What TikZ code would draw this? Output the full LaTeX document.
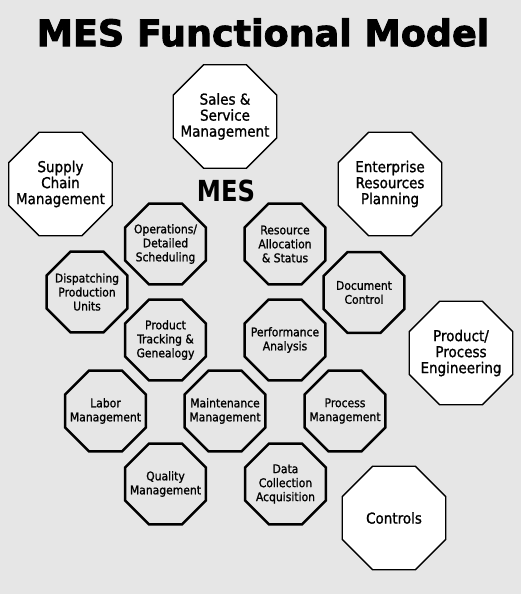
\documentclass[tikz,border=0pt]{standalone}
\usepackage{fontspec}
\setmainfont{DejaVu Sans Condensed}[FakeBold=1.2]
\newfontfamily\titlefont{DejaVu Sans}[BoldFeatures={FakeBold=2.5}]
\newfontfamily\mesfont{DejaVu Sans Condensed}[BoldFeatures={FakeStretch=0.93}]
\usetikzlibrary{shapes.geometric}

\definecolor{bggray}{HTML}{E6E6E6}

\tikzset{
  oct/.style={regular polygon, regular polygon sides=8, draw=black,
    inner sep=0pt},
  bigoct/.style={oct, line width=1.4pt, fill=white, minimum size=112pt},
  smalloct/.style={oct, line width=2.5pt, fill=bggray, minimum size=87.2pt},
  bigtxt/.style={align=center, inner sep=0pt, font=\fontsize{15}{16}\selectfont},
  smalltxt/.style={align=center, inner sep=0pt, font=\fontsize{12}{14}\selectfont}
}

\begin{document}
\begin{tikzpicture}[x=1pt,y=-1pt]
\fill[bggray] (0,0) rectangle (521,594);
\useasboundingbox (0,0) rectangle (521,594);

\node (title) at (263,32.5) {\titlefont\bfseries\fontsize{36.5}{40}\selectfont MES Functional Model};

% outer functions
\node[bigoct] (sales) at (225,116.5) {};
\node[bigtxt] at (sales) {Sales \&\\Service\\Management};
\node[bigoct] (supply) at (60.5,184) {};
\node[bigtxt] at (supply) {Supply\\Chain\\Management};
\node[bigoct] (erp) at (390,184) {};
\node[bigtxt] at (erp) {Enterprise\\Resources\\Planning};
\node[bigoct] (ppe) at (461,353) {};
\node[bigtxt] at (ppe) {Product/\\Process\\Engineering};
\node[bigoct] (controls) at (394,518) {};
\node[bigtxt] at (controls) {Controls};

\node (mes) at (226,191) {\mesfont\bfseries\fontsize{29}{32}\selectfont MES};

% MES functions
\node[smalloct] (ops) at (165.5,244) {};
\node[smalltxt] at (ops) {Operations/\\Detailed\\Scheduling};
\node[smalloct] (resalloc) at (285,244) {};
\node[smalltxt] at (resalloc) {Resource\\Allocation\\\& Status};
\node[smalloct] (doc) at (364,292.5) {};
\node[smalltxt] at (doc) {Document\\Control};
\node[smalloct] (dispatch) at (87,292) {};
\node[smalltxt] at (dispatch) {Dispatching\\Production\\Units};
\node[smalloct] (tracking) at (165.5,340) {};
\node[smalltxt] at (tracking) {Product\\Tracking \&\\Genealogy};
\node[smalloct] (perf) at (285,340) {};
\node[smalltxt] at (perf) {Performance\\Analysis};
\node[smalloct] (labor) at (105.5,411) {};
\node[smalltxt] at (labor) {Labor\\Management};
\node[smalloct] (maint) at (225,411) {};
\node[smalltxt] at (maint) {Maintenance\\Management};
\node[smalloct] (procmgmt) at (345,411) {};
\node[smalltxt] at (procmgmt) {Process\\Management};
\node[smalloct] (quality) at (165.5,484) {};
\node[smalltxt] at (quality) {Quality\\Management};
\node[smalloct] (datacoll) at (285.5,484) {};
\node[smalltxt] at (datacoll) {Data\\Collection\\Acquisition};
\end{tikzpicture}
\end{document}
